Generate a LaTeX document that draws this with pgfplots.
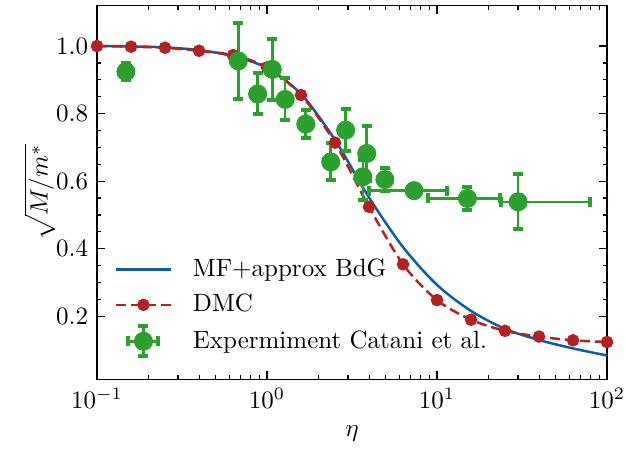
\documentclass[border=0pt]{standalone}
\usepackage{pgfplots}
\pgfplotsset{compat=1.18}
\definecolor{cblue}{HTML}{0C5DA5}
\definecolor{cred}{HTML}{B22222}
\definecolor{cgreen}{HTML}{2CA02C}
\pgfplotstableread{
x y
0.1 1.000
0.1585 0.999
0.2512 0.996
0.3981 0.988
0.6310 0.970
1.0 0.935
1.585 0.858
2.512 0.722
3.981 0.552
6.310 0.405
10.0 0.293
15.85 0.216
25.12 0.163
39.81 0.130
63.10 0.105
100.0 0.084
}\bdgdata
\pgfplotstableread{
x y
0.1 1.000
0.1585 0.998
0.2512 0.995
0.3981 0.986
0.6310 0.973
1.0 0.937
1.585 0.855
2.512 0.714
3.981 0.524
6.310 0.354
10.0 0.248
15.85 0.190
25.12 0.157
39.81 0.140
63.10 0.129
100.0 0.124
}\dmcdata
\pgfplotstableread{
x y xm xp ym yp
0.148 0.924 0 0 0.025 0.025
0.678 0.956 0 0 0.114 0.113
0.881 0.858 0 0 0.060 0.061
1.074 0.931 0 0 0.091 0.090
1.28 0.842 0 0 0.061 0.062
1.69 0.769 0 0 0.042 0.041
2.90 0.751 0 0 0.061 0.064
2.37 0.657 0 0 0.054 0.055
3.86 0.682 0 0 0.080 0.081
3.66 0.613 0 0 0.069 0.050
4.94 0.605 0 0 0.035 0.034
7.33 0.572 3.33 4.17 0 0
15.1 0.549 6.3 8.4 0.035 0.034
30.0 0.539 6.2 49.4 0.081 0.082
}\expdata
\begin{document}
\begin{tikzpicture}
\begin{axis}[
  scale only axis, width=204pt, height=149.6pt,
  xmode=log, xmin=0.1, xmax=100, ymin=0.013, ymax=1.12,
  ytick={0.2,0.4,0.6,0.8,1.0}, minor y tick num=3,
  yticklabel style={/pgf/number format/.cd,fixed,fixed zerofill,precision=1},
  tick align=inside, major tick length=3.3pt, minor tick length=1.7pt,
  xlabel={$\eta$}, ylabel={$\sqrt{M/m^*}$}, ylabel shift=-6.5pt,
  axis line style={line width=0.6pt},
  every tick/.style={black, line width=0.5pt},
  legend style={at={(0.02,0.042)}, anchor=south west, draw=none, fill=none, row sep=1.5pt, column sep=6.5pt},
  legend cell align=left,
  legend image code/.code={\draw[mark repeat=2,mark phase=2,#1] plot coordinates {(0pt,0pt) (10.8pt,0pt) (21.6pt,0pt)};},
]
\addplot[cblue, line width=1pt, smooth, no marks] table[x=x,y=y]{\bdgdata};
\addlegendentry{MF+approx BdG}
\addplot[cred, line width=1pt, dash pattern=on 4pt off 2pt, smooth, mark=*, mark size=2pt, mark options={solid}] table[x=x,y=y]{\dmcdata};
\addlegendentry{DMC}
\addplot[cgreen, only marks, mark=*, mark size=3.6pt,
  legend image code/.code={
    \draw[cgreen, line width=1pt] (4.8pt,0pt)--(16.8pt,0pt) (10.8pt,-6pt)--(10.8pt,6pt);
    \draw[cgreen, line width=1.6pt] (4.8pt,-2pt)--(4.8pt,2pt) (16.8pt,-2pt)--(16.8pt,2pt) (8.8pt,6pt)--(12.8pt,6pt) (8.8pt,-6pt)--(12.8pt,-6pt);
    \fill[cgreen] (10.8pt,0pt) circle (3.6pt);
  },
  error bars/.cd, x dir=both, x explicit, y dir=both, y explicit,
  error bar style={line width=1pt, cgreen},
  error mark options={rotate=90, line width=1.6pt, mark size=2pt, cgreen}]
  table[x=x, y=y, x error minus=xm, x error plus=xp, y error minus=ym, y error plus=yp]{\expdata};
\addlegendentry{Expermiment Catani et al.}
\end{axis}
\pgfresetboundingbox
\path[use as bounding box] ([xshift=-38.8pt,yshift=-28.4pt]current axis.south west) rectangle ([xshift=7.6pt,yshift=2.2pt]current axis.north east);
\end{tikzpicture}
\end{document}
